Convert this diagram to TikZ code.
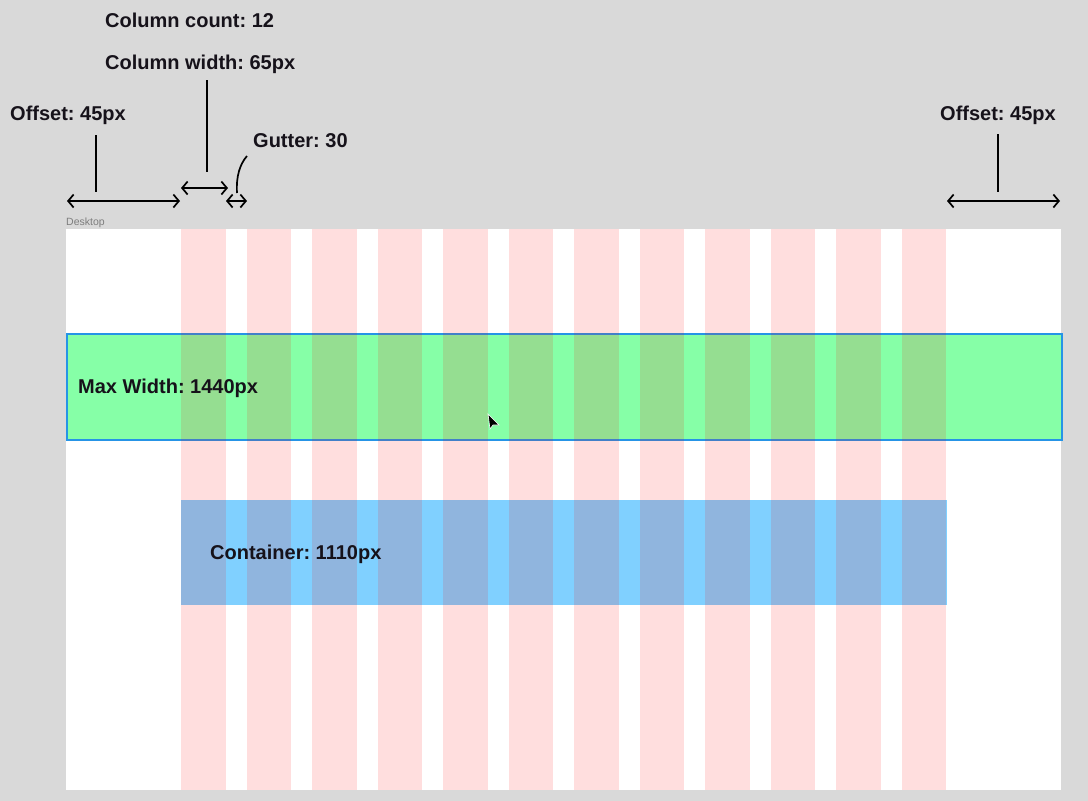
\documentclass[tikz,border=0pt]{standalone}
\usepackage{fontspec}
\setmainfont{Liberation Sans}
\frenchspacing
\usetikzlibrary{arrows.meta,positioning}
\definecolor{canvasgray}{RGB}{217,217,217}
\definecolor{gridred}{RGB}{255,0,0}
\definecolor{maxgreen}{RGB}{134,255,167}
\definecolor{selectblue}{RGB}{38,148,230}
\definecolor{boxblue}{RGB}{128,208,255}
\definecolor{labelgray}{RGB}{125,125,125}
\definecolor{inkblack}{RGB}{22,18,26}

\begin{document}
\begin{tikzpicture}[x=1pt,y=-1pt, every node/.style={font=\fontsize{20}{24}\selectfont\bfseries,inner sep=0pt,text=inkblack},
  measure/.style={{Straight Barb[length=5.5pt,width=13pt]}-{Straight Barb[length=5.5pt,width=13pt]},line width=1.7pt},
  leader/.style={line width=1.7pt}]
\useasboundingbox (0,0) rectangle (1088,801);
\fill[canvasgray] (0,0) rectangle (1088,801);
% frame and bands
\fill[white] (66,229) rectangle (1061,790);
\node[anchor=base west,font=\fontsize{10.5}{12}\selectfont,text=labelgray] (desk) at (66,225) {Desktop};
\node[draw=selectblue,fill=maxgreen,line width=1.5pt,minimum width=995pt,minimum height=106pt,anchor=north west] (maxw) at (66,333) {};
\node[fill=boxblue,minimum width=766pt,minimum height=105pt,anchor=north west] (cont) at (181,500) {};
\foreach \i in {0,...,11}
  \fill[gridred,fill opacity=.13] ({181+65.5*\i},229) rectangle ++(44.5,561);
\node[anchor=base west] (maxlbl) at (78,393) {Max Width: 1440px};
\node[anchor=base west] (contlbl) at (210,559) {Container: 1110px};
% labels on top
\node[anchor=base west] (count) at (105,27) {Column count: 12};
\node[anchor=base west] (colw) at (105,69) {Column width: 65px};
\node[anchor=base west] (offl) at (10,120) {Offset: 45px};
\node[anchor=base west] (gut) at (253,147) {Gutter: 30};
\node[anchor=base] (offr) at (998,120) {Offset: 45px};
% measures
\coordinate (offlA) at (67,201);
\coordinate (offlB) at (180,201);
\coordinate (offlTop) at (96,135);
\coordinate (offlFoot) at (96,192);
\draw[measure] (offlA) -- (offlB);
\draw[leader] (offlTop) -- (offlFoot);
\coordinate (colwA) at (181,188);
\coordinate (colwB) at (228,188);
\coordinate (colwTop) at (207,80);
\coordinate (colwFoot) at (207,172);
\draw[measure] (colwA) -- (colwB);
\draw[leader] (colwTop) -- (colwFoot);
\coordinate (gutA) at (226,201);
\coordinate (gutB) at (247,201);
\coordinate (gutFoot) at (237,193);
\coordinate (gutTop) at (247,156);
\draw[measure] (gutA) -- (gutB);
\draw[leader] (gutFoot) .. controls (236,176) and (240,164) .. (gutTop);
\coordinate (offrA) at (947,201);
\coordinate (offrB) at (1060,201);
\coordinate (offrTop) at (998,134);
\coordinate (offrFoot) at (998,192);
\draw[measure] (offrA) -- (offrB);
\draw[leader] (offrTop) -- (offrFoot);
% pointer
\filldraw[fill=black,draw=white,line width=.6pt] (488,414) -- (490,429) -- (493,425) -- (499,425) -- cycle;
\end{tikzpicture}
\end{document}
